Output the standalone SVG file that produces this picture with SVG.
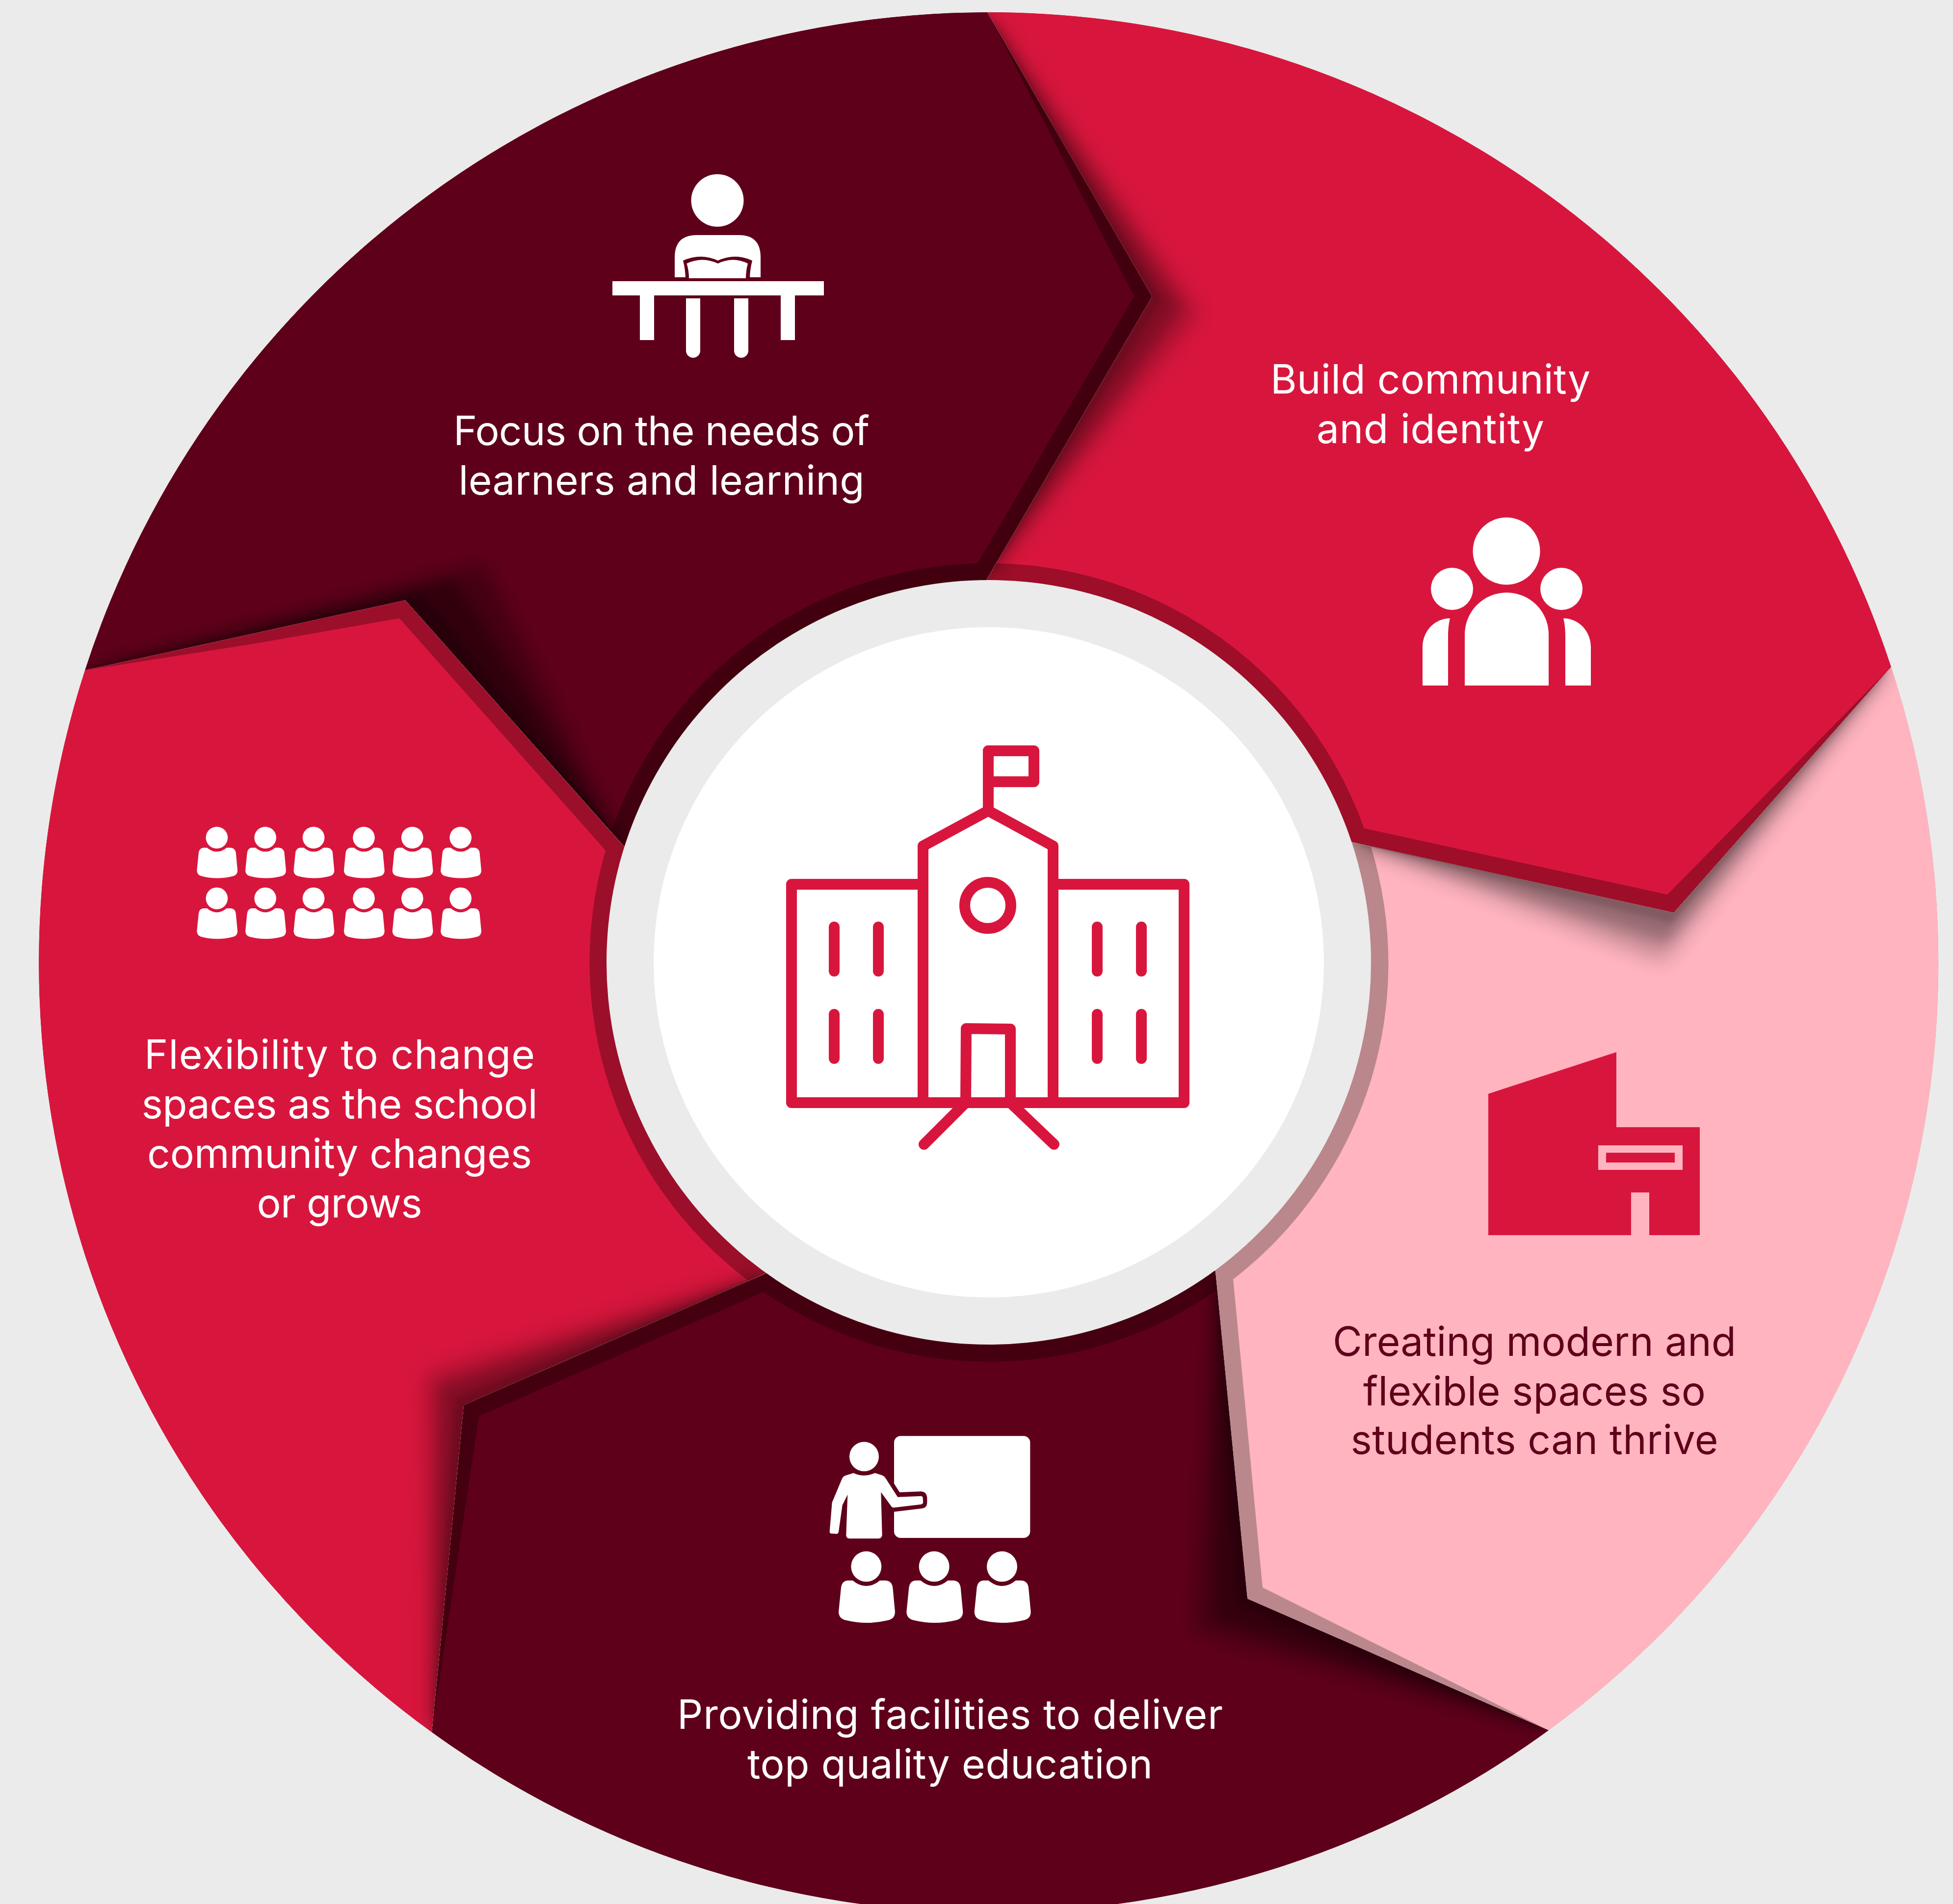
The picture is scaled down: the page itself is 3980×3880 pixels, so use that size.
<svg xmlns="http://www.w3.org/2000/svg" xmlns:xlink="http://www.w3.org/1999/xlink" width="3980" height="3880" viewBox="0 0 3980 3880">
<style>
.t{font-family:"Inter","Liberation Sans",sans-serif;font-size:82px;font-weight:400;fill:#fff;text-anchor:middle}
.tp{fill:#5f001a}
.w{fill:#fff}
.sb{filter:url(#b18);opacity:.33}
.sm{filter:url(#b12);opacity:.33}
.ss{filter:url(#b6);opacity:.25}
.ic{fill:none;stroke:#d8163d;stroke-width:22;stroke-linejoin:round;stroke-linecap:round}
</style>
<defs>
<filter id="b18" filterUnits="userSpaceOnUse" x="0" y="0" width="3980" height="3880"><feGaussianBlur stdDeviation="22"/></filter>
<filter id="b12" filterUnits="userSpaceOnUse" x="0" y="0" width="3980" height="3880"><feGaussianBlur stdDeviation="14"/></filter>
<filter id="b6" filterUnits="userSpaceOnUse" x="0" y="0" width="3980" height="3880"><feGaussianBlur stdDeviation="6"/></filter>
<path id="r-top" d="M173,1366A1936,1936 0 0 1 2012,25L2348,604L2011,1181L2015,1961L1271,1724L826,1223Z"/>
<path id="r-right" d="M2012,25A1936,1936 0 0 1 3854,1359L3411,1860L2754,1716L2015,1961L2011,1181L2348,604Z"/>
<path id="r-pink" d="M3854,1359A1936,1936 0 0 1 3156,3526L2542,3258L2477,2591L2015,1961L2754,1716L3411,1860Z"/>
<path id="r-bottom" d="M3156,3526A1936,1936 0 0 1 880,3530L945,2863L1560,2595L2015,1961L2477,2591L2542,3258Z"/>
<path id="r-left" d="M880,3530A1936,1936 0 0 1 173,1366L826,1223L1271,1724L2015,1961L1560,2595L945,2863Z"/>
<clipPath id="c-top"><use href="#r-top"/></clipPath>
<clipPath id="c-right"><use href="#r-right"/></clipPath>
<clipPath id="c-pink"><use href="#r-pink"/></clipPath>
<clipPath id="c-bottom"><use href="#r-bottom"/></clipPath>
<clipPath id="c-left"><use href="#r-left"/></clipPath>
<g id="stu" class="w">
<circle cx="376" cy="937" r="93"/>
<path d="M293,1022Q376,1090 460,1022L495,1022Q532,1025 538,1065L552,1215Q552,1250 520,1262Q380,1300 240,1262Q208,1250 207,1215L222,1065Q228,1025 262,1022Z"/>
</g>
</defs>
<rect width="3980" height="3880" fill="#ebebeb"/>

<g id="node-focus">
<g clip-path="url(#c-top)">
<use href="#r-top" fill="#42000f"/>
<path fill="#5f001a" d="M173,1366A1936,1936 0 0 1 2012,25L2311,604L1992,1148A813,813 0 0 0 1247,1690L826,1223Z"/>
<g opacity=".88">
<polygon class="sb" points="173,1366 986,1147 1271,1724"/>
<polygon class="sm" points="173,1366 922,1177 1271,1724"/>
<polygon class="ss" points="173,1366 861,1206 1271,1724"/>
</g>
</g>
<g id="icon-reader" class="w">
<circle cx="1462" cy="408.500" r="53.500"/>
<path d="M1375,565V524Q1375,479 1420,479H1505Q1550,479 1550,524V565Z"/>
<path fill="#5f001a" d="M1392,531Q1428,515 1463,531Q1498,515 1533,531Q1528,550 1528,570H1397Q1397,550 1392,531Z"/>
<path d="M1399.500,537Q1431,522 1463,537Q1494,522 1524,537Q1520,552 1520,567H1404Q1404,552 1399.500,537Z"/>
<rect x="1248" y="573" width="431" height="29"/>
<rect x="1304" y="602" width="29" height="91"/>
<rect x="1591" y="602" width="29" height="91"/>
<path d="M1398,608H1427V714.500A14.500,14.500 0 0 1 1398,714.500Z"/>
<path d="M1496,608H1525V714.500A14.500,14.500 0 0 1 1496,714.500Z"/>
</g>
<text class="t" x="1348" y="907" textLength="848">Focus on the needs of</text>
<text class="t" x="1348" y="1008" textLength="827">learners and learning</text>
</g>

<g id="node-community">
<g clip-path="url(#c-right)">
<use href="#r-right" fill="#9e0e28"/>
<path fill="#d8163d" d="M2012,25A1936,1936 0 0 1 3854,1359L3398,1823L2780,1688A813,813 0 0 0 2031,1148L2348,604Z"/>
<g opacity=".72">
<polygon class="sb" points="2012,25 2442,637 2011,1181"/>
<polygon class="sm" points="2012,25 2404,624 2011,1181"/>
<polygon class="ss" points="2012,25 2368,611 2011,1181"/>
</g>
</g>
<g id="icon-community" class="w">
<circle cx="3070" cy="1123" r="68.500"/>
<circle cx="2959" cy="1200" r="43"/>
<circle cx="3182" cy="1200" r="43"/>
<path d="M2985,1397V1293A85.500,85.500 0 0 1 3156,1293V1397Z"/>
<path d="M2899,1397V1319C2899,1285 2925,1260 2955,1260C2952,1272 2951,1285 2951,1295V1397Z"/>
<path d="M3242,1397V1319C3242,1285 3216,1260 3186,1260C3189,1272 3190,1285 3190,1295V1397Z"/>
</g>
<text class="t" x="2915" y="802" textLength="652">Build community</text>
<text class="t" x="2915" y="903" textLength="464">and identity</text>
</g>

<g id="node-spaces">
<g clip-path="url(#c-pink)">
<use href="#r-pink" fill="#ba878c"/>
<path fill="#ffb4c0" d="M3854,1359A1936,1936 0 0 1 3156,3526L2573,3235L2513,2607A813,813 0 0 0 2794,1726L3411,1860Z"/>
<g opacity=".75">
<polygon class="sb" points="3854,1359 3390,1958 2754,1716"/>
<polygon class="sm" points="3854,1359 3398,1918 2754,1716"/>
<polygon class="ss" points="3854,1359 3406,1881 2754,1716"/>
</g>
</g>
<g id="icon-building">
<path fill="#d8163d" d="M3033,2229L3294,2144V2297H3464V2517H3361V2430H3324V2517H3033Z"/>
<rect x="3257" y="2334" width="172" height="50" fill="#ffb4c0"/>
<rect x="3273" y="2349" width="140" height="20" fill="#d8163d"/>
</g>
<text class="t tp" x="3127" y="2763" textLength="822">Creating modern and</text>
<text class="t tp" x="3127" y="2864" textLength="698">flexible spaces so</text>
<text class="t tp" x="3127" y="2963" textLength="749">students can thrive</text>
</g>

<g id="node-facilities">
<g clip-path="url(#c-bottom)">
<use href="#r-bottom" fill="#450010"/>
<path fill="#5f001a" d="M3156,3526A1936,1936 0 0 1 880,3530L976,2886L1556,2633A813,813 0 0 0 2480,2629L2542,3258Z"/>
<g opacity=".82">
<polygon class="sb" points="3156,3526 2430,3324 2477,2591"/>
<polygon class="sm" points="3156,3526 2475,3298 2477,2591"/>
<polygon class="ss" points="3156,3526 2518,3272 2477,2591"/>
</g>
</g>
<g id="icon-teacher" transform="translate(1640,2880) scale(.33333)">
<rect class="w" x="546" y="139" width="832" height="623" rx="40"/>
<path fill="#5f001a" d="M546,430L580,483L712,478Q748,480 748,520V545Q748,578 715,582L546,602Z"/>
<circle class="w" cx="363" cy="265" r="90"/>
<path class="w" d="M298,365Q360,395 430,365L470,378Q488,385 495,398L568,512L712,506Q722,508 722,520L724,544Q722,556 710,557L545,577Q535,578 530,570L466,482L473,745Q470,766 450,766L275,766Q254,766 253,745L262,497L230,562L207,725Q204,737 195,737L160,735Q152,733 152,724L167,545L228,400Q235,385 250,380Z"/>
<use href="#stu"/>
<use href="#stu" x="415"/>
<use href="#stu" x="830"/>
</g>
<text class="t" x="1936" y="3523" textLength="1112">Providing facilities to deliver</text>
<text class="t" x="1936" y="3624" textLength="826">top quality education</text>
</g>

<g id="node-flexibility">
<g clip-path="url(#c-left)">
<use href="#r-left" fill="#9c0f2a"/>
<path fill="#d8163d" d="M880,3530A1936,1936 0 0 1 173,1366L517,1312L814,1260L1234,1733A813,813 0 0 0 1524,2609L945,2863Z"/>
<g opacity=".72">
<polygon class="sb" points="880,3530 868,2800 1560,2595"/>
<polygon class="sm" points="880,3530 899,2826 1560,2595"/>
<polygon class="ss" points="880,3530 928,2849 1560,2595"/>
</g>
</g>
<g id="icon-crowd">
<use href="#stu" transform="translate(441.800,1707) scale(.24) translate(-376,-937)"/>
<use href="#stu" transform="translate(540.600,1707) scale(.24) translate(-376,-937)"/>
<use href="#stu" transform="translate(639,1707) scale(.24) translate(-376,-937)"/>
<use href="#stu" transform="translate(741.400,1707) scale(.24) translate(-376,-937)"/>
<use href="#stu" transform="translate(840.200,1707) scale(.24) translate(-376,-937)"/>
<use href="#stu" transform="translate(938.600,1707) scale(.24) translate(-376,-937)"/>
<use href="#stu" transform="translate(441.800,1830.700) scale(.24) translate(-376,-937)"/>
<use href="#stu" transform="translate(540.600,1830.700) scale(.24) translate(-376,-937)"/>
<use href="#stu" transform="translate(639,1830.700) scale(.24) translate(-376,-937)"/>
<use href="#stu" transform="translate(741.400,1830.700) scale(.24) translate(-376,-937)"/>
<use href="#stu" transform="translate(840.200,1830.700) scale(.24) translate(-376,-937)"/>
<use href="#stu" transform="translate(938.600,1830.700) scale(.24) translate(-376,-937)"/>
</g>
<text class="t" x="692" y="2178" textLength="796">Flexibility to change</text>
<text class="t" x="692" y="2279" textLength="807">spaces as the school</text>
<text class="t" x="692" y="2380" textLength="784">community changes</text>
<text class="t" x="692" y="2481" textLength="337">or grows</text>
</g>

<g id="node-school">
<circle cx="2015" cy="1961" r="779" fill="#ebebeb"/>
<circle cx="2015" cy="1961" r="683" fill="#fff"/>
<rect class="ic" x="2014" y="1530" width="93" height="63"/>
<path class="ic" d="M2014,1530V1652"/>
<path class="ic" d="M1881,2247V1724L2014,1652L2146,1724V2247"/>
<path class="ic" d="M1881,1802H1613V2247H2413V1802H2146"/>
<circle class="ic" cx="2013" cy="1845" r="47"/>
<path class="ic" d="M1700,1889V1979M1790,1889V1979M2236,1889V1979M2326,1889V1979M1700,2067V2157M1790,2067V2157M2236,2067V2157M2326,2067V2157"/>
<path class="ic" d="M1968,2247L1969,2096L2059,2097V2247"/>
<path class="ic" d="M1968,2247L1883,2332M2059,2247L2148,2332"/>
</g>
</svg>
